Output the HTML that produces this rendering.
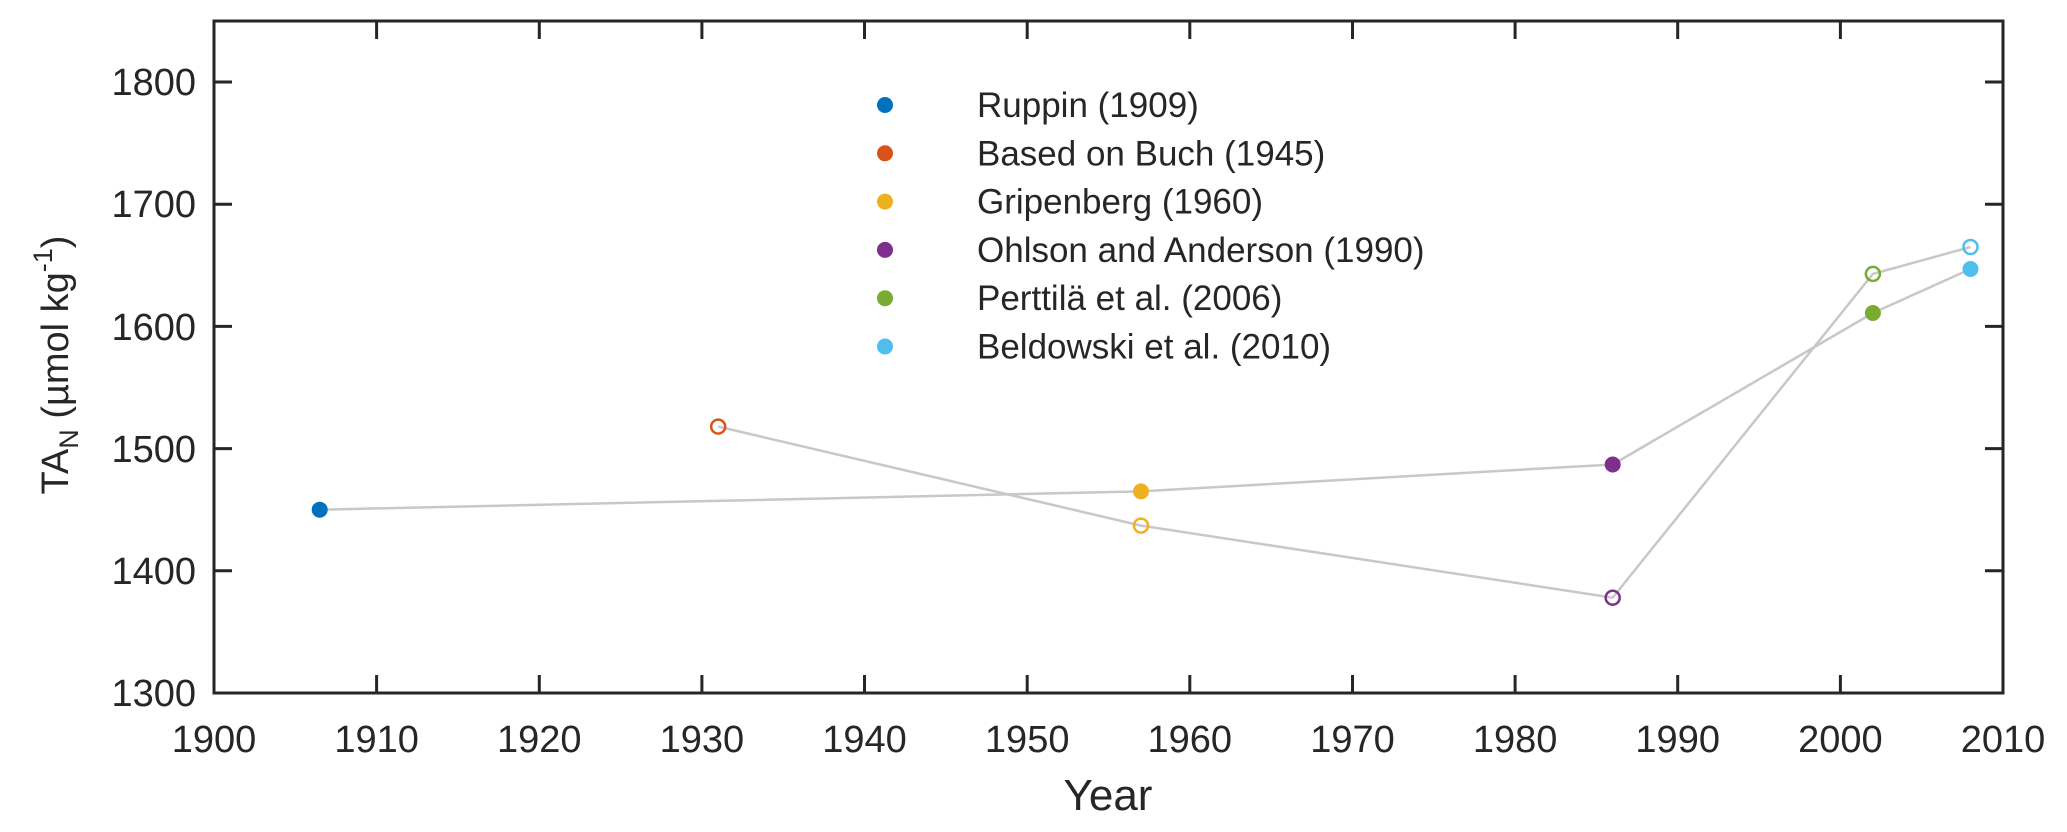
<!DOCTYPE html>
<html><head><meta charset="utf-8"><style>
html,body{margin:0;padding:0;background:#fff;}
svg{display:block;font-family:"Liberation Sans",Arial,sans-serif;}
</style></head><body>
<svg width="2067" height="832" viewBox="0 0 2067 832" xmlns="http://www.w3.org/2000/svg">
<rect width="2067" height="832" fill="#fff"/>
<rect x="214" y="21" width="1789" height="672" fill="none" stroke="#262626" stroke-width="3"/>
<g stroke="#262626" stroke-width="3">
<line x1="376.6" y1="693" x2="376.6" y2="675"/><line x1="376.6" y1="21" x2="376.6" y2="39"/>
<line x1="539.3" y1="693" x2="539.3" y2="675"/><line x1="539.3" y1="21" x2="539.3" y2="39"/>
<line x1="701.9" y1="693" x2="701.9" y2="675"/><line x1="701.9" y1="21" x2="701.9" y2="39"/>
<line x1="864.5" y1="693" x2="864.5" y2="675"/><line x1="864.5" y1="21" x2="864.5" y2="39"/>
<line x1="1027.2" y1="693" x2="1027.2" y2="675"/><line x1="1027.2" y1="21" x2="1027.2" y2="39"/>
<line x1="1189.8" y1="693" x2="1189.8" y2="675"/><line x1="1189.8" y1="21" x2="1189.8" y2="39"/>
<line x1="1352.5" y1="693" x2="1352.5" y2="675"/><line x1="1352.5" y1="21" x2="1352.5" y2="39"/>
<line x1="1515.1" y1="693" x2="1515.1" y2="675"/><line x1="1515.1" y1="21" x2="1515.1" y2="39"/>
<line x1="1677.7" y1="693" x2="1677.7" y2="675"/><line x1="1677.7" y1="21" x2="1677.7" y2="39"/>
<line x1="1840.4" y1="693" x2="1840.4" y2="675"/><line x1="1840.4" y1="21" x2="1840.4" y2="39"/>
<line x1="214" y1="570.8" x2="232" y2="570.8"/><line x1="2003" y1="570.8" x2="1985" y2="570.8"/>
<line x1="214" y1="448.6" x2="232" y2="448.6"/><line x1="2003" y1="448.6" x2="1985" y2="448.6"/>
<line x1="214" y1="326.4" x2="232" y2="326.4"/><line x1="2003" y1="326.4" x2="1985" y2="326.4"/>
<line x1="214" y1="204.2" x2="232" y2="204.2"/><line x1="2003" y1="204.2" x2="1985" y2="204.2"/>
<line x1="214" y1="82" x2="232" y2="82"/><line x1="2003" y1="82" x2="1985" y2="82"/>
</g>
<g font-size="38" fill="#262626" text-anchor="middle">
<text x="214" y="752">1900</text><text x="376.6" y="752">1910</text><text x="539.3" y="752">1920</text>
<text x="701.9" y="752">1930</text><text x="864.5" y="752">1940</text><text x="1027.2" y="752">1950</text>
<text x="1189.8" y="752">1960</text><text x="1352.5" y="752">1970</text><text x="1515.1" y="752">1980</text>
<text x="1677.7" y="752">1990</text><text x="1840.4" y="752">2000</text><text x="2003" y="752">2010</text>
</g>
<g font-size="38" fill="#262626" text-anchor="end">
<text x="196" y="706">1300</text><text x="196" y="584">1400</text><text x="196" y="462">1500</text>
<text x="196" y="340">1600</text><text x="196" y="217">1700</text><text x="196" y="95">1800</text>
</g>
<text x="1108" y="810" font-size="44" fill="#262626" text-anchor="middle">Year</text>
<text transform="translate(68,365) rotate(-90)" font-size="38" fill="#262626" text-anchor="middle">TA<tspan font-size="27" dy="10">N</tspan><tspan dy="-10"> (µmol kg</tspan><tspan font-size="27" dy="-16">-1</tspan><tspan dy="16">)</tspan></text>
<polyline points="319.7,509.7 1141,491.4 1612.7,464.5 1872.9,313 1970.5,269" fill="none" stroke="#c8c8c8" stroke-width="2.5"/>
<polyline points="718.2,426.6 1141,525.6 1612.7,597.7 1872.9,273.9 1970.5,247" fill="none" stroke="#c8c8c8" stroke-width="2.5"/>
<circle cx="319.7" cy="509.7" r="8" fill="#0072bd"/>
<circle cx="1141" cy="491.4" r="8" fill="#edb120"/>
<circle cx="1612.7" cy="464.5" r="8" fill="#7e2f8e"/>
<circle cx="1872.9" cy="313" r="8" fill="#77ac30"/>
<circle cx="1970.5" cy="269" r="8" fill="#4dbeee"/>
<g fill="none" stroke-width="2.5">
<circle cx="718.2" cy="426.6" r="7" stroke="#d95319"/>
<circle cx="1141" cy="525.6" r="7" stroke="#edb120"/>
<circle cx="1612.7" cy="597.7" r="7" stroke="#7e2f8e"/>
<circle cx="1872.9" cy="273.9" r="7" stroke="#77ac30"/>
<circle cx="1970.5" cy="247" r="7" stroke="#4dbeee"/>
</g>
<g font-size="35" fill="#262626">
<circle cx="885" cy="105" r="8" fill="#0072bd"/><text x="977" y="117">Ruppin (1909)</text>
<circle cx="885" cy="153.3" r="8" fill="#d95319"/><text x="977" y="165.3">Based on Buch (1945)</text>
<circle cx="885" cy="201.6" r="8" fill="#edb120"/><text x="977" y="213.6">Gripenberg (1960)</text>
<circle cx="885" cy="249.9" r="8" fill="#7e2f8e"/><text x="977" y="261.9">Ohlson and Anderson (1990)</text>
<circle cx="885" cy="298.2" r="8" fill="#77ac30"/><text x="977" y="310.2">Perttilä et al. (2006)</text>
<circle cx="885" cy="346.5" r="8" fill="#4dbeee"/><text x="977" y="358.5">Beldowski et al. (2010)</text>
</g>
</svg>
</body></html>
